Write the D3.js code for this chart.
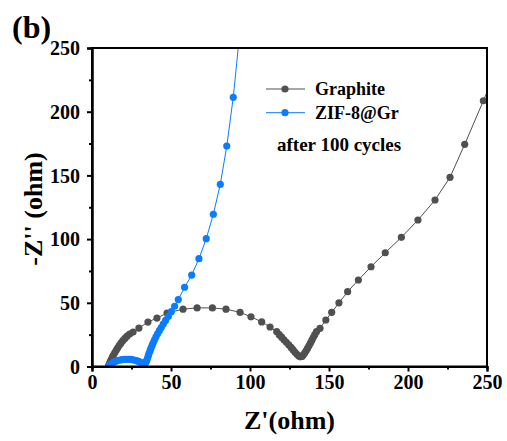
<html>
<head>
<style>
body { margin: 0; background: #fff; }
text { font-family: "Liberation Serif", "Times New Roman", serif; font-weight: bold; }
</style>
<script src="https://cdn.jsdelivr.net/npm/d3@7"></script>
</head>
<body>
<div id="chart"></div>
<script>
var graphiteRe = [10.5, 11.0, 11.6, 12.2, 12.9, 13.6, 14.4, 15.3, 16.2, 17.2, 18.3, 19.5, 20.8, 22.2, 23.8, 26.0, 29.7, 35.4, 41.1, 47.5, 57.6, 66.5, 76.2, 84.8, 93.7, 100.6, 107.4, 112.7, 116.9, 118.5, 120.0, 121.5, 123.0, 124.5, 126.0, 127.3, 128.5, 129.7, 130.8, 131.8, 132.8, 133.7, 134.6, 135.5, 136.4, 137.3, 138.2, 139.1, 140.0, 141.0, 142.1, 144.3, 148.0, 151.7, 156.3, 161.8, 168.6, 176.6, 185.6, 195.8, 206.3, 217.1, 226.6, 235.9, 247.7, 253.0];
var graphiteIm = [0.5, 2.0, 3.8, 5.5, 7.3, 9.0, 10.8, 12.7, 14.5, 16.4, 18.3, 20.3, 22.0, 23.8, 25.5, 27.0, 30.2, 34.9, 38.0, 42.0, 45.0, 46.0, 46.0, 45.0, 42.5, 39.0, 35.0, 31.0, 27.3, 25.0, 23.0, 21.0, 19.0, 17.0, 15.0, 13.0, 11.2, 9.6, 8.3, 7.6, 7.9, 9.0, 10.5, 12.3, 14.2, 16.2, 18.3, 20.5, 22.7, 25.0, 27.3, 30.0, 36.5, 42.5, 50.0, 58.7, 67.9, 78.3, 89.3, 101.4, 115.0, 130.7, 148.5, 174.4, 208.6, 224.0];

var zifRe = [10.5, 11.5, 12.6, 13.8, 15.0, 16.3, 17.6, 19.0, 20.4, 21.8, 23.2, 24.6, 26.0, 27.3, 28.6, 29.8, 30.9, 31.9, 32.8, 33.6, 34.2, 34.7, 35.2, 35.7, 36.2, 36.8, 37.4, 38.1, 38.8, 39.6, 40.5, 41.5, 42.6, 43.8, 45.1, 46.6, 48.3, 50.2, 52.3, 54.6, 58.6, 63.1, 67.7, 72.3, 76.8, 81.2, 85.3, 89.4, 94.0];
var zifIm = [0.3, 1.5, 2.5, 3.4, 4.1, 4.7, 5.1, 5.4, 5.6, 5.7, 5.7, 5.6, 5.3, 4.9, 4.4, 3.8, 3.2, 2.7, 2.4, 2.5, 3.5, 5.0, 6.8, 8.7, 10.6, 12.6, 14.6, 16.7, 18.8, 21.0, 23.3, 25.7, 28.1, 30.6, 33.3, 36.2, 39.4, 43.0, 47.3, 52.5, 62.2, 71.8, 84.6, 100.3, 119.5, 143.0, 173.0, 211.3, 268.0];

var seriesNames = ["Graphite", "ZIF-8@Gr"];
var seriesColors = ["#505050", "#0a7cff"];
var xTicks = [0, 50, 100, 150, 200, 250];
var yTicks = [0, 50, 100, 150, 200, 250];
var minorTicks = [25, 75, 125, 175, 225];

var width = 507, height = 441;
var margin = {top: 48, right: 20, bottom: 74.5, left: 92};
var plotW = width - margin.left - margin.right;
var plotH = height - margin.top - margin.bottom;

var svg = d3.select("#chart").append("svg")
    .attr("width", width)
    .attr("height", height);

var x = d3.scaleLinear().domain([0, 250]).range([0, plotW]);
var y = d3.scaleLinear().domain([0, 250]).range([plotH, 0]);

var g = svg.append("g")
    .attr("transform", "translate(" + margin.left + "," + margin.top + ")");

g.append("clipPath").attr("id", "clip")
  .append("rect").attr("width", plotW).attr("height", plotH);

var plot = g.append("g").attr("clip-path", "url(#clip)");

var series = [
  d3.zip(graphiteRe, graphiteIm),
  d3.zip(zifRe, zifIm)
];

var line = d3.line()
    .x(function(d) { return x(d[0]); })
    .y(function(d) { return y(d[1]); });

series.forEach(function(pts, i) {
  plot.append("path")
      .datum(pts)
      .attr("fill", "none")
      .attr("stroke", seriesColors[i])
      .attr("stroke-width", 1)
      .attr("d", line);
  plot.selectAll(".pt" + i)
      .data(pts)
      .enter().append("circle")
      .attr("cx", function(d) { return x(d[0]); })
      .attr("cy", function(d) { return y(d[1]); })
      .attr("r", 3.6)
      .attr("fill", seriesColors[i]);
});

// frame
g.append("rect")
    .attr("width", plotW).attr("height", plotH)
    .attr("fill", "none").attr("stroke", "#000").attr("stroke-width", 2);

// axes
var xAxis = g.append("g")
    .attr("transform", "translate(0," + plotH + ")")
    .call(d3.axisBottom(x).tickValues(xTicks).tickSize(5).tickPadding(3));
var xMinor = g.append("g")
    .attr("transform", "translate(0," + plotH + ")")
    .call(d3.axisBottom(x).tickValues(minorTicks).tickSize(3).tickFormat(""));
var yAxis = g.append("g")
    .call(d3.axisLeft(y).tickValues(yTicks).tickSize(5).tickPadding(7));
var yMinor = g.append("g")
    .call(d3.axisLeft(y).tickValues(minorTicks).tickSize(3).tickFormat(""));

[xAxis, xMinor, yAxis, yMinor].forEach(function(a) {
  a.select(".domain").attr("stroke-width", 2);
  a.selectAll(".tick line").attr("stroke-width", 2);
  a.selectAll("text")
    .attr("font-size", "20px")
    .attr("font-family", "Liberation Serif")
    .attr("font-weight", "bold")
    .attr("fill", "#000");
});
yAxis.selectAll("text").attr("dy", "0.34em");

// axis titles
svg.append("text")
    .attr("x", margin.left + plotW / 2)
    .attr("y", 429)
    .attr("text-anchor", "middle")
    .attr("font-size", "26px")
    .text("Z'(ohm)");

svg.append("text")
    .attr("transform", "translate(42,209) rotate(-90)")
    .attr("text-anchor", "middle")
    .attr("font-size", "26px")
    .text("-Z'' (ohm)");

svg.append("text")
    .attr("x", 12)
    .attr("y", 38)
    .attr("font-size", "32px")
    .text("(b)");

// legend
var legend = svg.append("g");
[89, 112.7].forEach(function(ly, i) {
  legend.append("line")
      .attr("x1", 266).attr("x2", 305)
      .attr("y1", ly).attr("y2", ly)
      .attr("stroke", seriesColors[i]).attr("stroke-width", 1);
  legend.append("circle")
      .attr("cx", 285).attr("cy", ly).attr("r", 3.6)
      .attr("fill", seriesColors[i]);
  legend.append("text")
      .attr("x", 315).attr("y", ly + 6)
      .attr("font-size", "18px")
      .text(seriesNames[i]);
});
legend.append("text")
    .attr("x", 277).attr("y", 151)
    .attr("font-size", "19px")
    .text("after 100 cycles");
</script>
</body>
</html>
